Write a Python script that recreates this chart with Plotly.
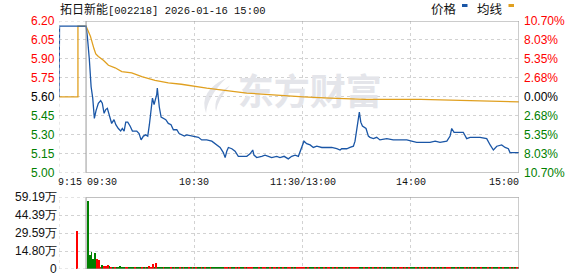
import plotly.graph_objects as go

# ---------------- data ----------------
prev_close = 5.60
price_ticks = [6.20, 6.05, 5.90, 5.75, 5.60, 5.45, 5.30, 5.15, 5.00]
pct_labels = ["10.70%", "8.03%", "5.35%", "2.68%", "0.00%", "2.68%", "5.35%", "8.03%", "10.70%"]
vol_ticks = [0, 14.80, 29.59, 44.39, 59.19]
vol_tick_labels = ["0", "14.80万", "29.59万", "44.39万", "59.19万"]
time_labels = ["9:15", "09:30", "10:30", "11:30/13:00", "14:00", "15:00"]
time_pos = [-15, 0, 60, 120, 180, 240]

# pre-market (call auction) in minutes relative to 09:30
pre_t = [-15, -15, -14.7, -14.7, 0]
pre_price = [5.60, 5.88, 5.88, 6.16, 6.16]
pre_avg_t = [-15, -4.5, -4.5, 0]
pre_avg = [5.60, 5.60, 6.16, 6.16]
pre_vol_t = [-5]
pre_vol = [31.0]

# intraday price (minutes after 09:30, trading minutes)
t_price = [0, 0.7, 1.8, 2.8, 3.7, 4.6, 5.5, 6.8, 8.1, 9.0, 10.0, 10.9, 11.8, 12.9, 14.2,
           15.5, 16.5, 17.9, 19.2, 20.1, 21.1, 22.0, 23.1, 24.4, 25.7, 28.1, 29.4, 30.5,
           31.8, 33.1, 34.2, 35.1, 36.0, 36.8, 37.7, 38.6, 39.2, 39.5, 40.1, 40.6, 41.6,
           42.8, 44.2, 45.6, 47.1, 48.4, 50.3, 51.6, 53.0, 54.5, 55.8, 59.5, 62.3, 64.1,
           66.9, 69.7, 72.5, 74.3, 76.1, 77.1, 78.0, 78.9, 80.8, 82.6, 84.4, 87.2, 89.1,
           90.9, 92.4, 93.1, 94.6, 97.4, 99.2, 101.1, 102.9, 105.7, 107.5, 109.8, 112.1,
           114.0, 115.9, 117.7, 119.0, 120.1, 120.8, 122.3, 124.2, 126.0, 127.9, 130.7,
           133.4, 136.2, 139.0, 140.8, 141.7, 144.5, 146.3, 148.2, 149.1, 150.1, 151.0,
           151.5, 152.3, 153.2, 155.2, 156.5, 157.4, 159.3, 161.1, 162.9, 166.7, 170.3,
           174.1, 177.8, 180.5, 183.3, 187.0, 190.7, 193.5, 196.2, 200.0, 201.8, 202.7,
           204.0, 206.4, 209.1, 211.0, 212.9, 218.4, 222.1, 224.0, 225.8, 227.7, 230.4,
           232.3, 234.1, 235.0, 240.0]
price = [6.16, 6.08, 5.90, 5.68, 5.59, 5.43, 5.49, 5.55, 5.57, 5.55, 5.47, 5.50, 5.51, 5.46, 5.39,
         5.42, 5.38, 5.35, 5.33, 5.35, 5.33, 5.40, 5.40, 5.37, 5.33, 5.33, 5.31, 5.26,
         5.29, 5.30, 5.29, 5.38, 5.48, 5.59, 5.54, 5.58, 5.62, 5.67, 5.58, 5.52, 5.44,
         5.43, 5.42, 5.39, 5.38, 5.34, 5.34, 5.31, 5.30, 5.29, 5.30, 5.29, 5.28, 5.26,
         5.26, 5.25, 5.22, 5.20, 5.16, 5.12, 5.17, 5.20, 5.19, 5.17, 5.13, 5.13, 5.13,
         5.15, 5.18, 5.14, 5.12, 5.13, 5.14, 5.13, 5.12, 5.13, 5.12, 5.13, 5.11,
         5.13, 5.14, 5.13, 5.18, 5.23, 5.25, 5.23, 5.22, 5.20, 5.21, 5.20,
         5.20, 5.20, 5.19, 5.18, 5.19, 5.19, 5.20, 5.21, 5.25, 5.34, 5.40,
         5.48, 5.40, 5.37, 5.35, 5.29, 5.28, 5.27, 5.28, 5.26, 5.27, 5.26,
         5.26, 5.26, 5.25, 5.24, 5.24, 5.24, 5.25, 5.24, 5.25, 5.29, 5.35,
         5.32, 5.32, 5.32, 5.27, 5.28, 5.28, 5.27, 5.22, 5.18, 5.21, 5.22,
         5.20, 5.19, 5.16, 5.16]

t_avg = [0, 2.4, 3.5, 4.4, 5.4, 6.8, 9.6, 12.4, 16.1, 19.8, 25.3, 30.9, 38.2, 45.6, 52.8,
         66.9, 89.1, 107.5, 120.4, 135.3, 154.7, 185.5, 212.9, 230.4, 240]
avg_price = [6.16, 6.08, 6.02, 5.98, 5.94, 5.92, 5.89, 5.85, 5.83, 5.80, 5.79, 5.76, 5.73,
             5.71, 5.70, 5.67, 5.63, 5.61, 5.60, 5.59, 5.58, 5.58, 5.57, 5.56, 5.56]

# per-minute volume (万), minutes 1..240
volume = [
    55.6, 11.0, 14.0, 7.7, 13.0, 8.0, 7.0, 1.2, 2.7, 1.8,
    2.2, 3.0, 1.8, 1.3, 1.0, 1.5, 1.6, 1.0, 2.2, 1.6,
    1.5, 1.2, 0.9, 1.0, 0.8, 0.9, 0.8, 1.0, 0.9, 0.8,
    0.9, 1.0, 0.8, 1.2, 2.2, 1.0, 3.8, 1.4, 4.6, 1.4,
    1.2, 1.0, 0.9, 1.1, 0.8, 0.9, 0.8, 1.0, 0.9, 0.8,
    0.9, 0.8, 0.7, 0.9, 0.8, 0.7, 0.8, 0.9, 0.7, 1.0,
    0.8, 0.7, 0.9, 0.8, 0.7, 0.8, 0.9, 0.7, 0.8, 0.9,
    0.8, 0.9, 1.0, 1.1, 1.2, 1.4, 1.0, 0.9, 0.8, 0.7,
    0.8, 0.7, 0.9, 0.8, 0.7, 0.6, 0.8, 0.7, 0.6, 0.7,
    0.8, 0.9, 0.7, 0.6, 0.7, 0.6, 0.7, 0.6, 0.8, 0.7,
    0.6, 0.7, 0.6, 0.7, 0.6, 0.7, 0.8, 0.6, 0.7, 0.6,
    0.7, 0.6, 0.7, 0.8, 0.7, 0.6, 0.7, 1.0, 1.3, 1.5,
    1.1, 0.9, 0.8, 0.7, 0.8, 0.7, 0.6, 0.7, 0.6, 0.7,
    0.6, 0.7, 0.6, 0.7, 0.6, 0.7, 0.6, 0.7, 0.6, 0.7,
    0.6, 0.7, 0.6, 0.7, 0.6, 0.7, 0.8, 0.9, 1.2, 1.4,
    1.6, 1.3, 1.0, 0.9, 0.8, 0.8, 0.7, 0.7, 0.8, 0.7,
    0.7, 0.6, 0.7, 0.6, 0.7, 0.6, 0.7, 0.6, 0.7, 0.6,
    0.7, 0.6, 0.7, 0.6, 0.7, 0.6, 0.7, 0.6, 0.7, 0.6,
    0.7, 0.6, 0.7, 0.6, 0.7, 0.6, 0.7, 0.6, 0.7, 0.6,
    0.7, 0.6, 0.7, 0.6, 0.7, 0.6, 0.7, 0.6, 0.7, 0.8,
    1.0, 1.1, 0.9, 0.8, 0.7, 0.7, 0.8, 0.7, 0.6, 0.7,
    0.7, 0.6, 0.7, 0.6, 0.7, 0.6, 0.7, 0.6, 0.7, 0.6,
    0.7, 0.8, 0.7, 0.8, 0.7, 0.6, 0.7, 0.6, 0.7, 0.6,
    0.7, 0.6, 0.7, 0.6, 0.8, 0.7, 0.6, 0.7, 0.8, 0.9,
]
vol_dir = ("gggggrrrgr" "rrgrgrgggg" "grrgggrggg" "rgrgrrrgrg" "ggrgggrgrg"
           "grgrggrgrg" "rggrgrggrg" "ggggggrrgr" "ggrgrggrgr" "rrgggrgrrg"
           "grgrrgrgrg" "grrgrgrrrr" "rgrgggrgrg" "grgrrgrgrg" "ggrgrgrrrr"
           "rggrggrgrg" "grgrgrgggr" "grgrrgrgrg" "ggrgrgrgrg" "grgrgrgrgr"
           "rrggrgrggr" "grgrgrggrg" "ggrgrgggrg" "rgggrgrgrg")

# ---------------- styling ----------------
RED = "#ff0000"
GREEN = "#008000"
BLUE = "#1a56a6"
GOLD = "#e0a020"
GRID = "#d2d2d2"
BORDER = "#999999"
NUMFONT = "Liberation Sans, Arial, sans-serif"
MONO = "Liberation Mono, DejaVu Sans Mono, monospace"
CJK = "Noto Sans CJK SC"

W, H = 578, 276
ML, MR, MT, MB = 59, 59, 21, 7
PW, PH = W - ML - MR, H - MT - MB


def px_to_paper(px, py):
    return (px - ML) / PW, (H - MB - py) / PH


def lab_color(v):
    if abs(v - prev_close) < 1e-9:
        return "#000000"
    return RED if v > prev_close else GREEN


minutes = list(range(1, len(volume) + 1))
n = min(len(volume), len(vol_dir))
vol_colors = [RED if c == "r" else GREEN for c in vol_dir[:n]]

fig = go.Figure()

# watermark (below the lines)
fig.add_trace(go.Scatter(x=[124], y=[5.605], mode="text", text=["东方财富"],
                         textfont=dict(family=CJK, size=36, color="#e4e5ea", weight="bold"),
                         hoverinfo="skip", showlegend=False, xaxis="x", yaxis="y"))

# price + average lines
fig.add_trace(go.Scatter(x=pre_avg_t + t_avg, y=pre_avg + avg_price, mode="lines",
                         line=dict(color=GOLD, width=1.3), showlegend=False, xaxis="x", yaxis="y"))
fig.add_trace(go.Scatter(x=pre_t + t_price, y=pre_price + price, mode="lines",
                         line=dict(color=BLUE, width=1.3), showlegend=False, xaxis="x", yaxis="y"))

# volume bars
fig.add_trace(go.Bar(x=pre_vol_t + minutes[:n], y=pre_vol + volume[:n],
                     marker=dict(color=[RED] + vol_colors, line=dict(width=0)),
                     width=0.5, showlegend=False, xaxis="x2", yaxis="y2"))

xr = [-15, 240]
PRICE_DOM = [0.388, 1]
VOL_DOM = [0, 0.289]
fig.update_layout(
    width=W, height=H, margin=dict(l=ML, r=MR, t=MT, b=MB, autoexpand=False),
    paper_bgcolor="white", plot_bgcolor="white",
    bargap=0,
    xaxis=dict(domain=[0, 1], range=xr, anchor="y", showticklabels=False, automargin=False,
               tickvals=[60, 120, 180], showgrid=True, gridcolor=GRID, griddash="3px,3px",
               gridwidth=1, zeroline=False, showline=False, ticks=""),
    xaxis2=dict(domain=[0, 1], range=xr, anchor="y2", showticklabels=False, automargin=False,
                tickvals=[60, 120, 180], showgrid=True, gridcolor=GRID, griddash="3px,3px",
                gridwidth=1, zeroline=False, showline=False, ticks=""),
    yaxis=dict(domain=PRICE_DOM, range=[5.00, 6.20], tickvals=price_ticks, showticklabels=False,
               automargin=False, showgrid=True, gridcolor=GRID, griddash="3px,3px",
               zeroline=False, ticks="", anchor="x"),
    yaxis2=dict(domain=VOL_DOM, range=[0, 59.19], tickvals=vol_ticks, showticklabels=False,
                automargin=False, showgrid=True, gridcolor=GRID, griddash="3px,3px",
                zeroline=False, ticks="", anchor="x2"),
)

shapes = []
# pre-market dashed borders
for yref, y0, y1 in [("y", 5.00, 6.20), ("y2", 0, 59.19)]:
    dash = dict(color=GRID, width=1, dash="3px,3px")
    shapes.append(dict(type="line", xref="x", yref=yref, x0=-15, x1=0, y0=y1, y1=y1, line=dash))
    shapes.append(dict(type="line", xref="x", yref=yref, x0=-15, x1=0, y0=y0, y1=y0, line=dash))
    shapes.append(dict(type="line", xref="x", yref=yref, x0=-15, x1=-15, y0=y0, y1=y1, line=dash))
# solid boxes for trading session
shapes.append(dict(type="rect", xref="x", yref="y", x0=0, x1=240, y0=5.00, y1=6.20,
                   line=dict(color=BORDER, width=1)))
shapes.append(dict(type="rect", xref="x", yref="y2", x0=0, x1=240, y0=0, y1=59.19,
                   line=dict(color=BORDER, width=1)))


# watermark logo (decoration)
def pt(px, py):
    xm = (px - 86) / 1.804
    yv = 6.20 - (py - 21.7) / 126.6
    return f"{xm:.2f},{yv:.4f}"


logo = (f"M {pt(226,79)} Q {pt(198,92)} {pt(206,114)} Q {pt(207,98)} {pt(226,79)} Z "
        f"M {pt(230,86)} Q {pt(212,98)} {pt(216,112)} Q {pt(218,100)} {pt(230,86)} Z")
shapes.append(dict(type="path", xref="x", yref="y", path=logo, fillcolor="#e4e5ea",
                   line=dict(width=0), layer="below"))

# legend swatches
for x0, col in [(462, BLUE), (508.5, GOLD)]:
    a0, b0 = px_to_paper(x0, 7)
    a1, b1 = px_to_paper(x0 + 5.5, 4)
    shapes.append(dict(type="rect", xref="paper", yref="paper", x0=a0, x1=a1, y0=b0, y1=b1,
                       fillcolor=col, line=dict(width=0)))
fig.update_layout(shapes=shapes)


def dom_y(v, lo, hi, dom):
    return dom[0] + (v - lo) / (hi - lo) * (dom[1] - dom[0])


ann = []
# price axis labels (left and right)
lx_left, _ = px_to_paper(57, 0)
lx_right, _ = px_to_paper(521.5, 0)
for v, pct in zip(price_ticks, pct_labels):
    yy = dom_y(v, 5.00, 6.20, PRICE_DOM)
    col = lab_color(v)
    ann.append(dict(xref="paper", yref="paper", x=lx_left, y=yy, xanchor="right", yanchor="middle",
                    showarrow=False, text=f"{v:.2f}", font=dict(family=NUMFONT, size=12, color=col)))
    ann.append(dict(xref="paper", yref="paper", x=lx_right, y=yy, xanchor="left", yanchor="middle",
                    showarrow=False, text=pct, font=dict(family=NUMFONT, size=12, color=col)))
# volume axis labels
for v, s in zip(vol_ticks, vol_tick_labels):
    yy = dom_y(v, 0, 59.19, VOL_DOM)
    ann.append(dict(xref="paper", yref="paper", x=lx_left + 1.5 / PW, y=yy, xanchor="right",
                    yanchor="middle", showarrow=False, text=s,
                    font=dict(family=NUMFONT, size=12, color="#111")))
# title
tx, ty = px_to_paper(58, 8.5)
ann.append(dict(xref="paper", yref="paper", x=tx, y=ty, xanchor="left", yanchor="middle",
                showarrow=False,
                text="<span style='font-family:Noto Sans CJK SC;font-size:12px'>拓日新能</span>[002218] 2026-01-16 15:00",
                font=dict(family=MONO, size=10.5, color="#111")))
# legend texts
for cx, s in [(444, "价格"), (490, "均线")]:
    lx, ly = px_to_paper(cx, 8.5)
    ann.append(dict(xref="paper", yref="paper", x=lx, y=ly, xanchor="center", yanchor="middle",
                    showarrow=False, text=s, font=dict(family=CJK, size=12.5, color="#111")))
# time labels
_, yl = px_to_paper(0, 182.5)
anchors = ["left", "left", "center", "center", "center", "right"]
shifts = [-3, -1, 0, 0, 0, 2]
for p, s, a, sh in zip(time_pos, time_labels, anchors, shifts):
    ann.append(dict(xref="x", yref="paper", x=p, y=yl, xanchor=a, yanchor="middle",
                    xshift=sh, showarrow=False, text=s,
                    font=dict(family=MONO, size=10, color="#111")))
fig.update_layout(annotations=ann)

fig.write_html("out.html")
